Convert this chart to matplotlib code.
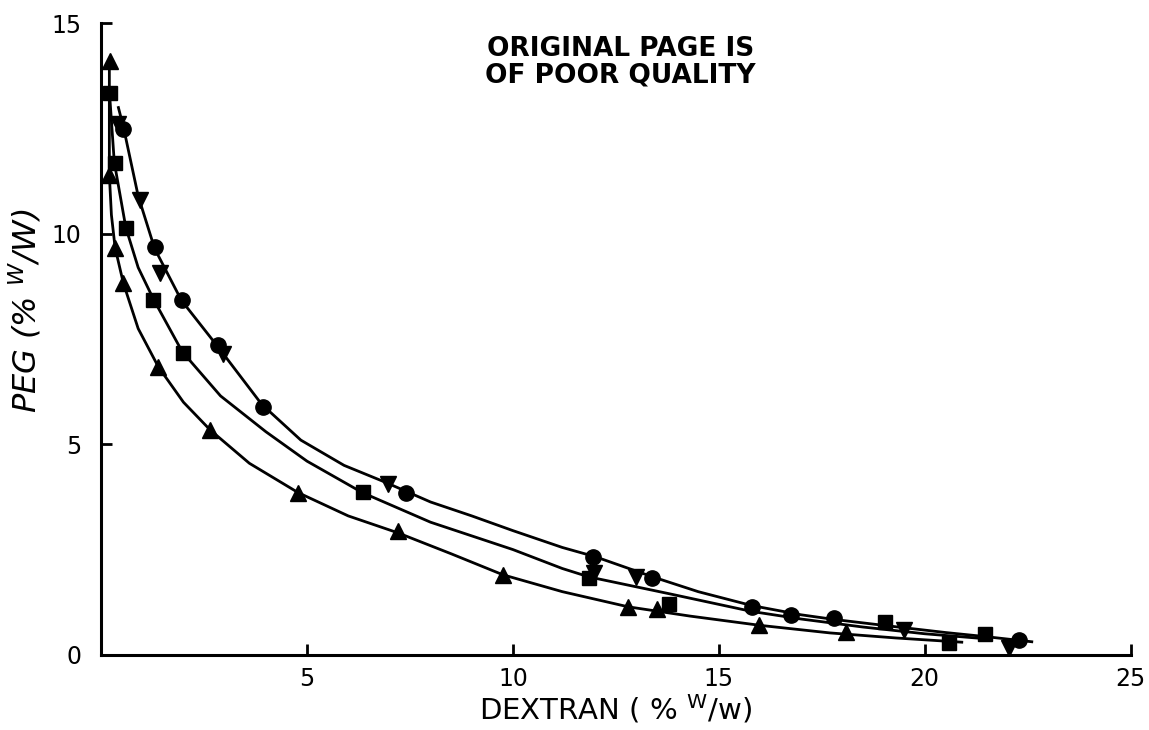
import numpy as np
import matplotlib
matplotlib.use('Agg')
import matplotlib.pyplot as plt

tri_x = [0.22, 0.2, 0.34, 0.54, 1.39, 2.65, 4.79, 7.2, 9.76, 12.8, 13.5, 15.98, 18.1]
tri_y = [14.1, 11.4, 9.67, 8.83, 6.84, 5.34, 3.85, 2.95, 1.9, 1.14, 1.1, 0.71, 0.55]

sq_x = [0.22, 0.34, 0.61, 1.27, 2.0, 6.35, 11.85, 13.8, 19.03, 20.58, 21.46]
sq_y = [13.35, 11.68, 10.14, 8.43, 7.17, 3.87, 1.83, 1.2, 0.78, 0.28, 0.5]

circ_x = [0.54, 1.32, 1.97, 2.85, 3.94, 7.4, 11.94, 13.38, 15.8, 16.76, 17.8, 22.3]
circ_y = [12.5, 9.69, 8.43, 7.36, 5.89, 3.85, 2.33, 1.83, 1.14, 0.95, 0.88, 0.36]

inv_x = [0.42, 0.95, 1.44, 2.95, 6.96, 11.97, 12.99, 19.5, 22.04]
inv_y = [12.6, 10.8, 9.07, 7.15, 4.05, 1.95, 1.85, 0.6, 0.15]

# drawn curves
top_x = [0.42, 0.55, 0.9, 1.3, 1.95, 2.85, 3.9, 4.85, 5.9, 6.9, 8.0, 9.0, 10.0,
         11.2, 12.0, 13.4, 14.5, 15.8, 17.0, 17.8, 19.0, 20.5, 21.5, 22.6]
top_y = [13.0, 12.5, 10.9, 9.65, 8.42, 7.3, 5.95, 5.1, 4.5, 4.1, 3.63, 3.3, 2.95,
         2.55, 2.33, 1.85, 1.5, 1.17, 0.95, 0.84, 0.7, 0.53, 0.43, 0.31]

mid_x = [0.2, 0.32, 0.6, 0.9, 1.27, 1.97, 2.9, 4.0, 5.0, 6.35, 8.0, 10.0, 11.2,
         11.85, 13.8, 15.8, 17.0, 18.5, 20.0, 21.5]
mid_y = [13.4, 11.7, 10.15, 9.2, 8.45, 7.2, 6.15, 5.3, 4.6, 3.85, 3.15, 2.5, 2.05,
         1.85, 1.45, 1.03, 0.85, 0.66, 0.5, 0.38]

bot_x = [0.2, 0.2, 0.25, 0.34, 0.54, 0.9, 1.39, 2.0, 2.65, 3.6, 4.79, 6.0, 7.2,
         8.5, 9.76, 11.2, 12.8, 14.3, 16.0, 17.7, 19.3, 20.9]
bot_y = [14.1, 11.4, 10.45, 9.67, 8.83, 7.75, 6.84, 6.0, 5.34, 4.55, 3.85, 3.3, 2.9,
         2.4, 1.9, 1.5, 1.14, 0.92, 0.7, 0.52, 0.4, 0.3]

fig = plt.figure(figsize=(11.49, 7.30), dpi=100)
ax = fig.add_axes([0.088, 0.103, 0.896, 0.865])

lw = 2.0
ax.plot(top_x, top_y, color='black', linewidth=lw)
ax.plot(mid_x, mid_y, color='black', linewidth=lw)
ax.plot(bot_x, bot_y, color='black', linewidth=lw)

ax.plot(tri_x, tri_y, linestyle='none', marker='^', markersize=12, color='black')
ax.plot(sq_x, sq_y, linestyle='none', marker='s', markersize=10, color='black')
ax.plot(circ_x, circ_y, linestyle='none', marker='o', markersize=11, color='black')
ax.plot(inv_x, inv_y, linestyle='none', marker='v', markersize=12, color='black')

ax.set_xlim(0, 25)
ax.set_ylim(0, 15)
ax.set_xticks([5, 10, 15, 20, 25])
ax.set_yticks([0, 5, 10, 15])
ax.spines['top'].set_visible(False)
ax.spines['right'].set_visible(False)
for s in ['left', 'bottom']:
    ax.spines[s].set_linewidth(2.2)
ax.tick_params(direction='in', length=8, width=2.0, labelsize=17)
ax.tick_params(axis='x', pad=9)
ax.tick_params(axis='y', pad=14)

ax.set_xlabel('DEXTRAN ( % $^{\\mathrm{W}}$/w)', fontsize=21, labelpad=1)
fig.text(0.022, 0.575, 'PEG (% $^{W}$/W)', rotation=90, fontsize=23,
         style='italic', ha='center', va='center')

fig.text(0.54, 0.915, 'ORIGINAL PAGE IS\nOF POOR QUALITY', fontsize=19,
         fontweight='bold', ha='center', va='center', linespacing=1.05)

plt.savefig('out.png', dpi=100)
plt.close()
